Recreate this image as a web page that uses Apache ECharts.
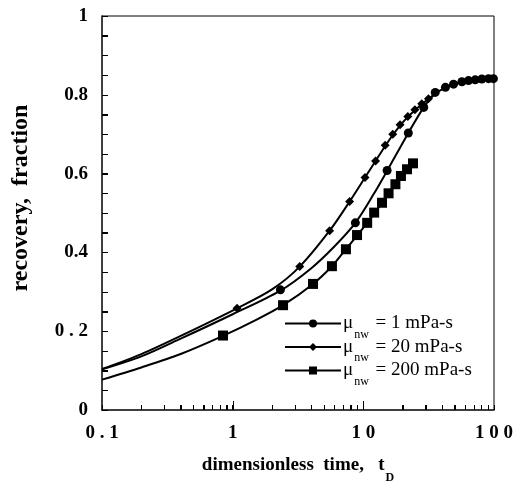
<!DOCTYPE html>
<html>
<head>
<meta charset="utf-8">
<script src="https://cdn.jsdelivr.net/npm/echarts@6/dist/echarts.min.js"></script>
<style>
html, body { margin: 0; padding: 0; background: #fff; }
#main { width: 519px; height: 489px; }
</style>
</head>
<body>
<div id="main"></div>
<script>
// tick labels and tick positions
var xTickLabels = ['0 . 1', '1', '1 0', '1 0 0'];
var yTickLabels = ['0', '0 . 2', '0.4', '0.6', '0.8', '1'];
var xMajorTicks = [0.1, 1, 10, 100];
var xMinorTicks = [0.2, 0.3, 0.4, 0.5, 0.6, 0.7, 0.8, 0.9,
  2, 3, 4, 5, 6, 7, 8, 9, 20, 30, 40, 50, 60, 70, 80, 90];
var yTickStep = 0.05;

var seriesNames = ['1 mPa-s', '20 mPa-s', '200 mPa-s'];

// model curves (lines)
var tCurve1 = [0.1, 0.2, 0.4, 1, 2.32, 4, 6, 8.69, 12, 15.2, 22, 29, 35.5, 42.5, 50, 70, 100];
var recCurve1 = [0.103, 0.136, 0.181, 0.243, 0.303, 0.360, 0.415, 0.475, 0.548, 0.607, 0.702, 0.768, 0.803, 0.818, 0.828, 0.838, 0.841];

var tCurve20 = [0.1, 0.2, 0.4, 1.08, 2, 3.26, 5.52, 7.85, 10.3, 12.4, 14.7, 16.8, 19.1, 21.9, 24.8, 28, 31.5, 35.5];
var recCurve20 = [0.104, 0.142, 0.188, 0.258, 0.306, 0.364, 0.455, 0.529, 0.590, 0.632, 0.670, 0.698, 0.722, 0.744, 0.761, 0.776, 0.789, 0.803];

var tCurve200 = [0.1, 0.2, 0.4, 0.843, 1.5, 2.43, 4.12, 5.75, 7.36, 10.7, 13.9, 17.6, 21.6, 24.5];
var recCurve200 = [0.077, 0.108, 0.142, 0.188, 0.228, 0.266, 0.320, 0.365, 0.408, 0.475, 0.526, 0.573, 0.611, 0.632];

// measured points (markers)
var tMark1 = [2.32, 8.69, 15.2, 22.1, 29.0, 35.5, 42.5, 49, 56.8, 63.8, 71.8, 80.7, 90.8, 99];
var recMark1 = [0.305, 0.475, 0.608, 0.703, 0.768, 0.806, 0.819, 0.827, 0.833, 0.836, 0.838, 0.840, 0.841, 0.841];

var tMark20 = [1.08, 3.26, 5.52, 7.85, 10.3, 12.4, 14.7, 16.8, 19.1, 21.9, 24.8, 28.0, 31.5];
var recMark20 = [0.258, 0.364, 0.455, 0.529, 0.590, 0.632, 0.672, 0.700, 0.724, 0.745, 0.762, 0.777, 0.790];

var tMark200 = [0.843, 2.43, 4.12, 5.75, 7.36, 8.95, 10.7, 12.1, 13.9, 15.6, 17.6, 19.4, 21.6, 24.0];
var recMark200 = [0.189, 0.266, 0.320, 0.365, 0.408, 0.444, 0.475, 0.501, 0.526, 0.550, 0.573, 0.594, 0.611, 0.626];

function zip(xs, ys) {
  var out = [];
  for (var i = 0; i < xs.length; i++) out.push([xs[i], ys[i]]);
  return out;
}

var serif = '"Liberation Serif", "Times New Roman", serif';

var chart = echarts.init(document.getElementById('main'), null, { renderer: 'canvas' });

function lineSeries(name, sym, xs, ys) {
  return {
    name: name,
    type: 'line',
    smooth: 0.3,
    symbol: sym,
    showSymbol: false,
    lineStyle: { color: '#000', width: 2 },
    itemStyle: { color: '#000' },
    data: zip(xs, ys),
    z: 2
  };
}

function markSeries(name, sym, size, xs, ys) {
  return {
    name: name + ' pts',
    type: 'scatter',
    symbol: sym,
    symbolSize: size,
    itemStyle: { color: '#000', opacity: 1 },
    data: zip(xs, ys),
    z: 3
  };
}

var option = {
  animation: false,
  grid: { left: 102, right: 25, top: 16, bottom: 79 },
  legend: {
    orient: 'vertical',
    left: 284, top: 314,
    padding: 0,
    data: seriesNames,
    itemWidth: 56,
    itemHeight: 10,
    itemGap: -3,
    selectedMode: false,
    formatter: function (name) {
      return '{m|μ}{s|nw}{m| = ' + name + '}';
    },
    textStyle: {
      color: '#000',
      fontFamily: serif,
      padding: [0, 0, 0, -3],
      rich: {
        m: { fontSize: 19, fontFamily: serif, color: '#000', lineHeight: 34 },
        s: { fontSize: 12, fontFamily: serif, color: '#000', verticalAlign: 'bottom', padding: [0, 2, 0, 1] }
      }
    }
  },
  xAxis: {
    type: 'log',
    logBase: 10,
    min: 0.1,
    max: 100,
    z: 10,
    name: '{a|dimensionless  time,   t}{b|D}',
    nameLocation: 'middle',
    nameGap: 36,
    nameTextStyle: {
      rich: {
        a: { fontSize: 19, fontWeight: 'bold', fontFamily: serif, color: '#000' },
        b: { fontSize: 12, fontWeight: 'bold', fontFamily: serif, color: '#000', padding: [26, 0, 0, 1] }
      }
    },
    axisLine: { show: true, onZero: false, lineStyle: { color: '#000', width: 1.5 } },
    axisTick: {
      show: true, inside: true, length: 5,
      customValues: xMajorTicks.concat(xMinorTicks),
      lineStyle: { color: '#000', width: 1 }
    },
    axisLabel: {
      margin: 14,
      color: '#000',
      fontSize: 19,
      fontWeight: 'bold',
      fontFamily: serif,
      customValues: xMajorTicks,
      formatter: function (v) {
        return xTickLabels[Math.round(Math.log10(v)) + 1];
      }
    },
    splitLine: { show: false }
  },
  yAxis: {
    type: 'value',
    min: 0,
    max: 1,
    interval: 0.2,
    z: 10,
    name: 'recovery,  fraction',
    nameLocation: 'middle',
    nameGap: 69,
    nameTextStyle: {
      fontSize: 24, fontWeight: 'bold', fontFamily: serif, color: '#000',
      padding: [0, 0, 0, 30]
    },
    axisLine: { show: true, onZero: false, lineStyle: { color: '#000', width: 1.5 } },
    axisTick: { show: true, inside: true, length: 6, lineStyle: { color: '#000', width: 1 } },
    minorTick: { show: true, splitNumber: 4, length: 6, lineStyle: { color: '#000', width: 1 } },
    axisLabel: {
      margin: 14,
      color: '#000',
      fontSize: 19,
      fontWeight: 'bold',
      fontFamily: serif,
      formatter: function (v) {
        return yTickLabels[Math.round(v / 0.2)];
      }
    },
    splitLine: { show: false }
  },
  series: [
    lineSeries(seriesNames[0], 'circle', tCurve1, recCurve1),
    lineSeries(seriesNames[1], 'diamond', tCurve20, recCurve20),
    lineSeries(seriesNames[2], 'rect', tCurve200, recCurve200),
    markSeries(seriesNames[0], 'circle', 9, tMark1, recMark1),
    markSeries(seriesNames[1], 'diamond', 9, tMark20, recMark20),
    markSeries(seriesNames[2], 'rect', 10, tMark200, recMark200)
  ]
};

chart.setOption(option);

// frame on top/right and the inward ticks, placed through the axes
function px(v) { return Math.round(v) + 0.5; }

var topLeft = chart.convertToPixel({ gridIndex: 0 }, [0.1, 1]);
var botRight = chart.convertToPixel({ gridIndex: 0 }, [100, 0]);
var extras = [{
  type: 'polyline',
  z: 10,
  shape: { points: [topLeft, [botRight[0], topLeft[1]], botRight] },
  style: { stroke: '#000', lineWidth: 1, fill: null },
  silent: true
}];

function tick(x1, y1, x2, y2) {
  extras.push({
    type: 'polyline',
    z: 10,
    shape: { points: [[x1, y1], [x2, y2]] },
    style: { stroke: '#000', lineWidth: 1, fill: null },
    silent: true
  });
}

[1, 10].forEach(function (v) {
  var p = chart.convertToPixel({ gridIndex: 0 }, [v, 0]);
  tick(px(p[0]), p[1], px(p[0]), p[1] - 9);
});
xMinorTicks.forEach(function (v) {
  var p = chart.convertToPixel({ gridIndex: 0 }, [v, 0]);
  tick(px(p[0]), p[1], px(p[0]), p[1] - 5);
});
for (var k = 1; k * yTickStep < 0.999; k++) {
  var q = chart.convertToPixel({ gridIndex: 0 }, [0.1, k * yTickStep]);
  tick(q[0], px(q[1]), q[0] + 6, px(q[1]));
}
chart.setOption({ graphic: extras });
</script>
</body>
</html>
